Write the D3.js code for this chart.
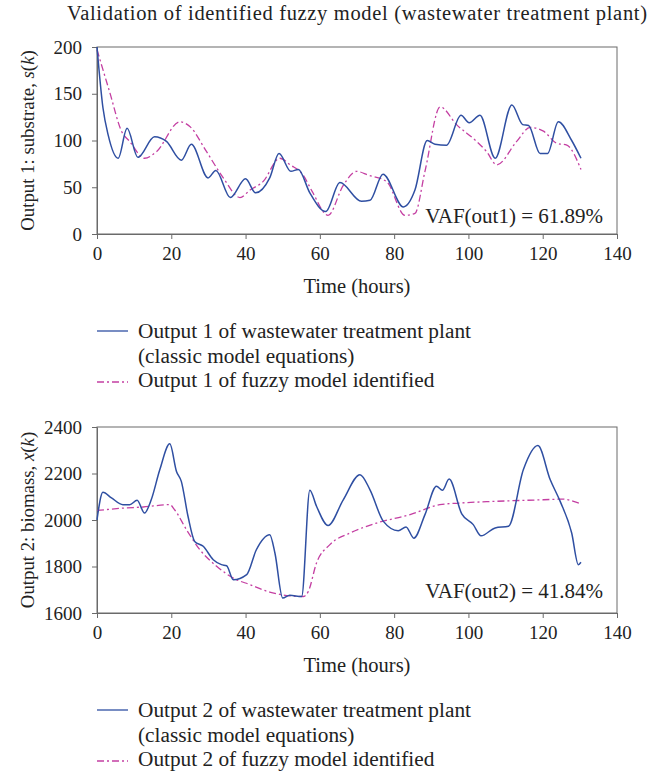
<!DOCTYPE html>
<html>
<head>
<meta charset="utf-8">
<title>Fuzzy model validation</title>
<script src="https://cdn.jsdelivr.net/npm/d3@7"></script>
<style>
  body { margin: 0; background: #fff; }
  text { font-family: "Liberation Serif", "Times New Roman", serif; fill: #222; }
</style>
</head>
<body>
<svg id="chart"></svg>
<script>
// hours / values
const s_plantX = [0, 1.6, 3, 5.7, 8.1, 11, 15.5, 18.7, 22.7, 25.4, 29.9, 32, 35.9, 40, 42.7, 46.5, 49, 52.2, 54.2, 57.3, 61.6, 65.4, 71.2, 73.5, 77, 82.5, 85.6, 88.9, 91, 94.1, 98, 100.2, 103.1, 107.2, 111.7, 114.6, 116.2, 119.3, 121.3, 124.2, 127.8, 130.3]
const s_plantY = [200, 135, 106, 81, 113, 82, 104, 99, 79, 96, 60, 68, 39, 59, 44, 60, 86, 67, 69, 44, 24, 55, 35, 36, 64, 29, 47, 100, 96, 95, 127, 119, 127, 81, 138, 117, 116, 86, 86, 120, 100, 81]
const s_fuzzyX = [0, 3.4, 6.6, 8.8, 12.8, 16, 22.3, 25, 29.5, 34, 38.5, 41.2, 44.7, 49.2, 52, 55.5, 58, 62.2, 66.3, 69.9, 73, 78, 82.9, 85.6, 88.3, 92.4, 96.8, 102.2, 104.9, 107.6, 113, 116.6, 120.2, 123.8, 126.5, 130.3]
const s_fuzzyY = [197, 152, 110, 99, 81, 88, 120, 115, 88, 60, 39, 47, 56, 81, 74, 63, 45, 20, 52, 67, 63, 56, 20, 22, 67, 136, 117, 99, 88, 74, 99, 114, 110, 97, 95, 69]

const x_plantX = [0, 1.6, 3.9, 7, 8.8, 10.8, 12.8, 14.6, 16.9, 19.6, 21.4, 22.7, 24.5, 26.3, 28.6, 31.3, 33.5, 34.9, 36.7, 40.3, 42.9, 46.5, 47.9, 50, 51.9, 55.1, 57.3, 59.1, 62.2, 66.3, 70.8, 73.5, 77.1, 81.1, 83.2, 85.3, 88.3, 91.4, 93, 94.8, 98.2, 101.3, 103.4, 107.2, 110.8, 114.8, 118.7, 122, 124.7, 127.8, 129.6, 130.3]
const x_plantY = [2001, 2119, 2095, 2066, 2066, 2085, 2030, 2087, 2216, 2328, 2209, 2166, 2016, 1908, 1887, 1829, 1808, 1803, 1743, 1765, 1872, 1937, 1858, 1664, 1676, 1671, 2128, 2059, 1976, 2087, 2195, 2130, 1994, 1954, 1970, 1922, 2023, 2145, 2128, 2176, 2026, 1980, 1932, 1966, 1973, 2217, 2320, 2174, 2080, 1944, 1808, 1818]
const x_fuzzyX = [0, 7, 12.4, 19.6, 20.9, 24.1, 27.7, 32.2, 36.7, 41.2, 46.5, 51.9, 55.5, 56.9, 59.1, 62.7, 68.1, 75.3, 84.3, 92.3, 97.7, 106.7, 120.2, 125.6, 128.3, 130.3]
const x_fuzzyY = [2041, 2051, 2056, 2066, 2044, 1958, 1872, 1801, 1750, 1722, 1690, 1674, 1671, 1693, 1815, 1894, 1944, 1987, 2023, 2066, 2073, 2080, 2087, 2090, 2080, 2070]

const xTicks = [0, 20, 40, 60, 80, 100, 120, 140]
const sTicks = [0, 50, 100, 150, 200]
const bTicks = [1600, 1800, 2000, 2200, 2400]

const W = 659, H = 773
const blue = "#2f4fa2", magenta = "#c43fa2", axisCol = "#6a6a6a"

const svg = d3.select("#chart").attr("width", W).attr("height", H)

svg.append("text")
    .attr("x", 357).attr("y", 20)
    .attr("text-anchor", "middle")
    .attr("textLength", 580).attr("lengthAdjust", "spacing")
    .style("font-size", "20.5px")
    .text("Validation of identified fuzzy model (wastewater treatment plant)")

function zip(xs, ys) { return xs.map((x, i) => [x, ys[i]]) }

function panel(top, bottom, yDomain, yTicks, plant, fuzzy, labelParts, vaf, vafOff, legend) {
    const x = d3.scaleLinear().domain([0, 140]).range([97, 617])
    const y = d3.scaleLinear().domain(yDomain).range([bottom, top])
    const g = svg.append("g")

    // frame
    g.append("rect")
        .attr("x", x(0)).attr("y", y(yDomain[1]))
        .attr("width", x(140) - x(0)).attr("height", y(yDomain[0]) - y(yDomain[1]))
        .attr("fill", "none").attr("stroke", axisCol).attr("stroke-width", 1)

    const xa = g.append("g")
        .attr("transform", `translate(0,${bottom})`)
        .call(d3.axisBottom(x).tickValues(xTicks).tickFormat(d3.format("d"))
            .tickSize(5).tickSizeOuter(0).tickPadding(8))
    const ya = g.append("g")
        .attr("transform", `translate(${x(0)},0)`)
        .call(d3.axisLeft(y).tickValues(yTicks).tickFormat(d3.format("d"))
            .tickSize(5).tickSizeOuter(0).tickPadding(10))
    for (const a of [xa, ya]) {
        a.select(".domain").attr("stroke", axisCol)
        a.selectAll(".tick line").attr("stroke", axisCol)
        a.selectAll(".tick text")
            .style("font-family", '"Liberation Serif", serif')
            .style("font-size", "19px").attr("fill", "#222")
    }

    const line = d3.line().x(d => x(d[0])).y(d => y(d[1])).curve(d3.curveMonotoneX)

    g.append("path").datum(fuzzy)
        .attr("d", line).attr("fill", "none")
        .attr("stroke", magenta).attr("stroke-width", 1.3)
        .attr("stroke-dasharray", "7,3,2,3")
    g.append("path").datum(plant)
        .attr("d", line).attr("fill", "none")
        .attr("stroke", blue).attr("stroke-width", 1.5)

    // vaf
    g.append("text")
        .attr("x", 603).attr("y", bottom - vafOff)
        .attr("text-anchor", "end")
        .style("font-size", "21px")
        .text(vaf)

    // axis titles
    g.append("text")
        .attr("x", 357).attr("y", bottom + 59)
        .attr("text-anchor", "middle")
        .style("font-size", "20.5px")
        .text("Time (hours)")

    const yl = g.append("text")
        .attr("transform", `translate(34,${(top + bottom) / 2}) rotate(-90)`)
        .attr("text-anchor", "middle")
        .style("font-size", "18.8px")
    labelParts.forEach(p => {
        yl.append("tspan").style("font-style", p[1] ? "italic" : "normal").text(p[0])
    })

    // legend
    const ly = bottom + 97
    g.append("line").attr("x1", 97).attr("x2", 128).attr("y1", ly).attr("y2", ly)
        .attr("stroke", blue).attr("stroke-width", 1.3)
    g.append("line").attr("x1", 97).attr("x2", 128).attr("y1", ly + 51).attr("y2", ly + 51)
        .attr("stroke", magenta).attr("stroke-width", 1.3).attr("stroke-dasharray", "7,3,2,3")
    legend.forEach((t, i) => {
        g.append("text").attr("x", 138).attr("y", ly + 7 + i * 24.5)
            .style("font-size", "21.3px").text(t)
    })
}

panel(47, 234, [0, 200], sTicks,
    zip(s_plantX, s_plantY), zip(s_fuzzyX, s_fuzzyY),
    [["Output 1: substrate, ", false], ["s", true], ["(", false], ["k", true], [")", false]],
    "VAF(out1) = 61.89%", 11,
    ["Output 1 of wastewater treatment plant", "(classic model equations)", "Output 1 of fuzzy model identified"])

panel(427, 613, [1600, 2400], bTicks,
    zip(x_plantX, x_plantY), zip(x_fuzzyX, x_fuzzyY),
    [["Output 2: biomass, ", false], ["x", true], ["(", false], ["k", true], [")", false]],
    "VAF(out2) = 41.84%", 15,
    ["Output 2 of wastewater treatment plant", "(classic model equations)", "Output 2 of fuzzy model identified"])
</script>
</body>
</html>
